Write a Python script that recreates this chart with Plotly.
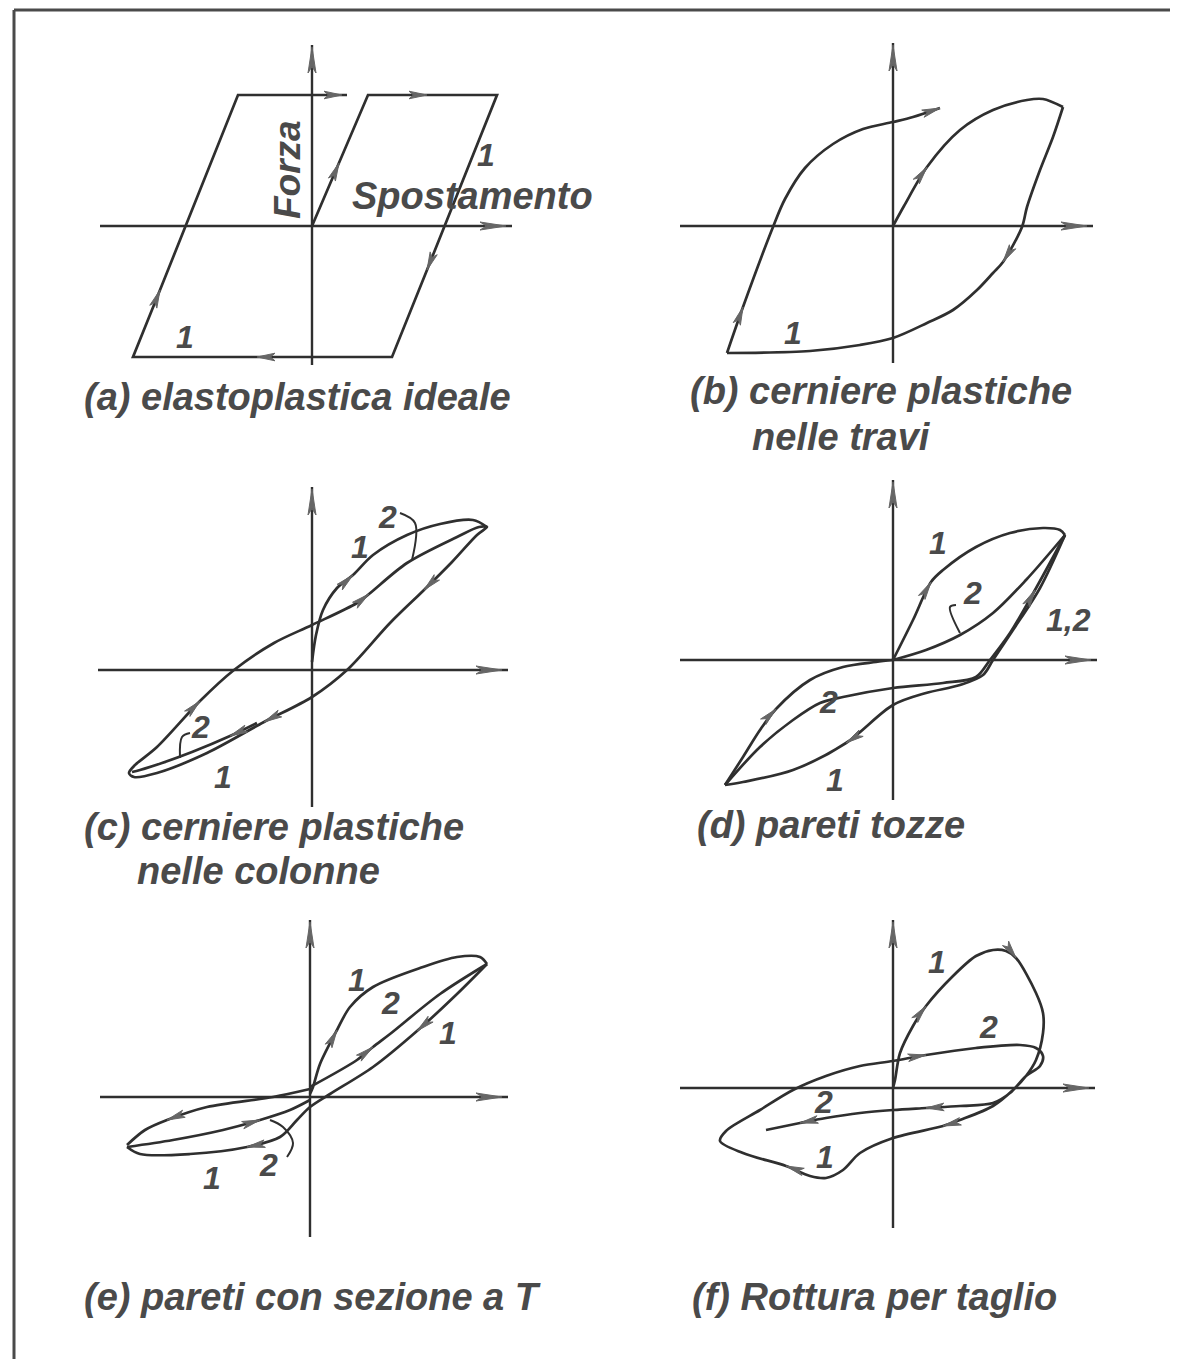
import math

import plotly.graph_objects as go

# the page places the figure 8 px in from the top-left corner
PAGE_SHIFT = 8
W, H = 1178 - PAGE_SHIFT, 1359 - PAGE_SHIFT
LINE = "#2f2f2f"
ARROW = "#666666"
TEXT = "#4a4a4a"
FONT = "Liberation Sans, Arial, sans-serif"

# page boxes (left, top, right, bottom) and axis origin of each panel, in page pixels
PANEL_BOX = {
    "a": (20, 15, 585, 460), "b": (590, 15, 1165, 460),
    "c": (20, 460, 585, 905), "d": (590, 460, 1165, 905),
    "e": (20, 905, 585, 1350), "f": (590, 905, 1165, 1350),
}
PANEL_ORIGIN = {
    "a": (312, 226), "b": (893, 226),
    "c": (312, 670), "d": (893, 660),
    "e": (310, 1097), "f": (893, 1088),
}

# drawn axis extents (Spostamento, Forza) per panel
AXIS_X = {"a": [-212, 200], "b": [-213, 200], "c": [-214, 196], "d": [-213, 204], "e": [-210, 198], "f": [-213, 202]}
AXIS_Y = {"a": [-139, 181], "b": [-137, 183], "c": [-137, 183], "d": [-140, 180], "e": [-140, 177], "f": [-140, 168]}

# (a) elastoplastica ideale
A_X = [0, 27, 56, 115, 185, 115, 80, -55, -179, -152, -74, 30, 35]
A_Y = [0, 63, 131, 131, 131, -44, -131, -131, -131, -64, 131, 131, 131]
A_ARROWS = [1, 3, 5, 7, 9, 11]

# (b) cerniere plastiche nelle travi
B_INIT_X = [0, 11, 34, 67, 100, 134, 150, 170]
B_INIT_Y = [0, 20, 59, 96, 116, 126, 127, 119]
B_DOWN_X = [170, 160, 147, 134, 129, 110, 100, 84, 60, 34, 0, -33, -83, -166]
B_DOWN_Y = [119, 89, 56, 19, -1, -36, -47, -64, -84, -97, -112, -119, -125, -127]
B_UP_X = [-166, -150, -120, -108, -88, -60, -30, 0, 20, 47]
B_UP_Y = [-127, -81, -1, 27, 58, 82, 97, 104, 109, 118]

# (c) cerniere plastiche nelle colonne
C_INIT_X = [0, 4, 11, 25, 41, 61, 95, 128, 161, 175]
C_INIT_Y = [8, 35, 60, 82, 95, 115, 135, 146, 150, 143]
C_LOOP_X = [175, 165, 140, 112, 78, 35, 0, -48, -105, -155, -178, -183, -178, -155, -112, -78, -38, 0, 45, 57, 95, 145, 167, 175]
C_LOOP_Y = [143, 135, 108, 80, 47, 0, -27, -52, -83, -103, -107, -103, -96, -77, -31, 0, 27, 45, 67, 76, 107, 133, 143, 143]
C_CYCLE2_X = [-55, -82, -120, -150, -172, -180]
C_CYCLE2_Y = [-53, -66, -82, -93, -100, -102]

# (d) pareti tozze
D_U1_X = [0, 20, 38, 50, 83, 117, 150, 167, 172]
D_U1_Y = [0, 40, 78, 90, 113, 127, 132, 130, 125]
D_U2_X = [0, 33, 67, 100, 133, 172]
D_U2_Y = [0, 10, 25, 47, 80, 125]
D_L1_X = [172, 147, 120, 100, 90, 67, 33, 0, -47, -100, -150, -168]
D_L1_Y = [125, 72, 30, 0, -15, -25, -33, -45, -83, -110, -122, -125]
D_L2_X = [-168, -133, -100, -73, -50, 0, 50, 83, 97, 117, 142, 172]
D_L2_Y = [-125, -87, -60, -43, -37, -28, -23, -17, 0, 27, 70, 125]
D_R_X = [-168, -150, -133, -117, -83, -50, -17, 0]
D_R_Y = [-125, -97, -70, -49, -20, -7, -2, 0]

# (e) pareti con sezione a T
E1_X = [0, 3, 10, 27, 40, 63, 113, 147, 170, 177]
E1_Y = [3, 10, 33, 67, 90, 110, 130, 140, 140, 133]
E2_X = [0, 47, 63, 80, 130, 177]
E2_Y = [10, 37, 50, 63, 103, 133]
E_DOWN_X = [177, 147, 107, 63, 20, 0, -13, -30, -63, -120, -170, -183]
E_DOWN_Y = [133, 103, 66, 30, 3, -10, -23, -40, -50, -57, -57, -50]
E_LEFT_X = [0, -37, -103, -143, -165, -183]
E_LEFT_Y = [8, 0, -10, -23, -33, -48]
E_BACK_X = [-183, -137, -87, -50, -20, 0]
E_BACK_Y = [-50, -43, -33, -23, -13, -3]

# (f) Rottura per taglio
F_X = [0, 2, 7, 20, 33, 60, 83, 100, 113, 123, 143, 150, 150, 143, 133, 120, 100, 67, 50, 0,
       -33, -50, -67, -83, -107, -150, -173, -167, -133, -100, -67, -33, 0, 33, 83, 127, 143,
       150, 147, 133, 117, 100, 67, 33, 0, -33, -67, -93, -127]
F_Y = [0, 8, 35, 62, 82, 112, 132, 138, 137, 130, 95, 75, 55, 28, 12, -2, -18, -32, -38, -50,
       -65, -82, -90, -88, -78, -65, -53, -43, -22, -2, 12, 22, 27, 33, 40, 43, 40,
       32, 22, 12, -5, -15, -18, -20, -22, -25, -30, -35, -42]

# bracket ticks pointing a cycle number to its branch
C_BRACKET_X = [[88, 103, 100], [-122, -130, -132]]
C_BRACKET_Y = [[157, 147, 110], [-63, -67, -88]]
D_BRACKET_X = [[63, 57, 67]]
D_BRACKET_Y = [[55, 53, 27]]
E_BRACKET_X = [[-23, -17, -27, -40]]
E_BRACKET_Y = [[-60, -46, -30, -23]]

LABELS = {
    "a": [("1", 174, 71), ("1", -127, -111)],
    "b": [("1", -100, -107)],
    "c": [("2", 75, 153), ("1", 48, 123), ("2", -112, -57), ("1", -89, -107)],
    "d": [("1", 45, 117), ("2", 79, 67), ("1,2", 175, 40), ("2", -65, -42), ("1", -58, -120)],
    "e": [("1", 47, 117), ("2", 80, 94), ("1", 138, 64), ("1", -98, -81), ("2", -42, -68)],
    "f": [("1", 44, 126), ("2", 95, 61), ("2", -70, -14), ("1", -68, -69)],
}
CAPTIONS = {
    "a": [("(a) elastoplastica ideale", -230, -171)],
    "b": [("(b) cerniere plastiche", -205, -165), ("nelle travi", -143, -211)],
    "c": [("(c) cerniere plastiche", -230, -157), ("nelle colonne", -177, -201)],
    "d": [("(d) pareti tozze", -198, -165)],
    "e": [("(e) pareti con sezione a T", -228, -200)],
    "f": [("(f) Rottura per taglio", -203, -209)],
}

# curves: (panel, x, y, arrow knot indexes, smooth)
CURVES = [
    ("a", A_X, A_Y, A_ARROWS, False),
    ("b", B_INIT_X, B_INIT_Y, [2], True),
    ("b", B_DOWN_X, B_DOWN_Y, [5], True),
    ("b", B_UP_X, B_UP_Y, [1, 9], True),
    ("c", C_INIT_X, C_INIT_Y, [4], True),
    ("c", C_LOOP_X, C_LOOP_Y, [3, 7, 14, 19], True),
    ("c", C_CYCLE2_X, C_CYCLE2_Y, [1], True),
    ("d", D_U1_X, D_U1_Y, [2], True),
    ("d", D_U2_X, D_U2_Y, [], True),
    ("d", D_L1_X, D_L1_Y, [8], True),
    ("d", D_L2_X, D_L2_Y, [10], True),
    ("d", D_R_X, D_R_Y, [3], True),
    ("e", E1_X, E1_Y, [3], True),
    ("e", E2_X, E2_Y, [2], True),
    ("e", E_DOWN_X, E_DOWN_Y, [2, 8], True),
    ("e", E_LEFT_X, E_LEFT_Y, [3], True),
    ("e", E_BACK_X, E_BACK_Y, [3], True),
    ("f", F_X, F_Y, [4, 9, 18, 24, 33, 43, 47], True),
]
BRACKETS = [("c", C_BRACKET_X, C_BRACKET_Y), ("d", D_BRACKET_X, D_BRACKET_Y), ("e", E_BRACKET_X, E_BRACKET_Y)]

ORDER = ["a", "b", "c", "d", "e", "f"]


def axis_ids(panel):
    n = ORDER.index(panel) + 1
    return ("x", "y") if n == 1 else (f"x{n}", f"y{n}")


def head(px, py, tx, ty, dx, dy, length, half):
    norm = math.hypot(dx, dy) or 1.0
    dx, dy = dx / norm, dy / norm
    bx, by = tx - length * dx, ty - length * dy
    px += [tx, bx - half * dy, bx + 0.25 * length * dx, bx + half * dy, tx, None]
    py += [ty, by + half * dx, by + 0.25 * length * dy, by - half * dx, ty, None]


def font(size):
    return dict(family=FONT, size=size, color=TEXT, weight="bold", style="italic")


fig = go.Figure()

for panel in ORDER:
    xa, ya = axis_ids(panel)
    x0, x1 = AXIS_X[panel]
    y0, y1 = AXIS_Y[panel]
    fig.add_trace(go.Scatter(x=[x0, x1, None, 0, 0], y=[0, 0, None, y0, y1], mode="lines",
                             line=dict(color=LINE, width=2.4), xaxis=xa, yaxis=ya, hoverinfo="skip"))
    hx, hy = [], []
    head(hx, hy, x1 - 6, 0, 1, 0, 26, 4)
    head(hx, hy, 0, y1 - 2, 0, 1, 26, 4)
    fig.add_trace(go.Scatter(x=hx, y=hy, mode="lines", fill="toself", fillcolor=ARROW,
                             line=dict(color=ARROW, width=1), xaxis=xa, yaxis=ya, hoverinfo="skip"))

for panel, xs, ys, arrows, smooth in CURVES:
    xa, ya = axis_ids(panel)
    fig.add_trace(go.Scatter(x=xs, y=ys, mode="lines",
                             line=dict(color=LINE, width=2.7, shape="spline" if smooth else "linear", smoothing=0.9),
                             xaxis=xa, yaxis=ya, hoverinfo="skip"))
    if arrows:
        hx, hy = [], []
        for i in arrows:
            j0, j1 = max(i - 1, 0), min(i + 1, len(xs) - 1)
            head(hx, hy, xs[i], ys[i], xs[j1] - xs[j0], ys[j1] - ys[j0], 18, 3.8)
        fig.add_trace(go.Scatter(x=hx, y=hy, mode="lines", fill="toself", fillcolor=ARROW,
                                 line=dict(color=ARROW, width=1), xaxis=xa, yaxis=ya, hoverinfo="skip"))

for panel, bxs, bys in BRACKETS:
    xa, ya = axis_ids(panel)
    for bx, by in zip(bxs, bys):
        fig.add_trace(go.Scatter(x=bx, y=by, mode="lines", line=dict(color=LINE, width=2, shape="spline"),
                                 xaxis=xa, yaxis=ya, hoverinfo="skip"))

annotations = []
for panel in ORDER:
    xa, ya = axis_ids(panel)
    for text, x, y in LABELS[panel]:
        annotations.append(dict(text=text, x=x, y=y, xref=xa, yref=ya, showarrow=False, font=font(32)))
    for text, x, y in CAPTIONS[panel]:
        annotations.append(dict(text=text, x=x, y=y, xref=xa, yref=ya, showarrow=False, xanchor="left",
                                font=font(38)))

annotations.append(dict(text="Forza", x=-25, y=56, xref="x", yref="y", showarrow=False, textangle=-90,
                        font=font(37)))
annotations.append(dict(text="Spostamento", x=160, y=30, xref="x", yref="y", showarrow=False, font=font(38)))

layout_axes = {}
for panel in ORDER:
    n = ORDER.index(panel) + 1
    left, top, right, bottom = PANEL_BOX[panel]
    ox, oy = PANEL_ORIGIN[panel]
    suffix = "" if n == 1 else str(n)
    xa, ya = axis_ids(panel)
    fl, ft, fr, fb = (v - PAGE_SHIFT for v in (left, top, right, bottom))
    layout_axes[f"xaxis{suffix}"] = dict(domain=[fl / W, fr / W], range=[left - ox, right - ox],
                                         visible=False, fixedrange=True, anchor=ya)
    layout_axes[f"yaxis{suffix}"] = dict(domain=[(H - fb) / H, (H - ft) / H], range=[oy - bottom, oy - top],
                                         visible=False, fixedrange=True, anchor=xa)

frame_x = (14 - PAGE_SHIFT) / W
frame_y = (H - (10 - PAGE_SHIFT)) / H
fig.update_layout(
    width=W, height=H,
    margin=dict(l=0, r=0, t=0, b=0),
    paper_bgcolor="white", plot_bgcolor="rgba(0,0,0,0)",
    showlegend=False,
    annotations=annotations,
    shapes=[
        dict(type="line", xref="paper", yref="paper", x0=frame_x, x1=frame_x, y0=0, y1=frame_y,
             line=dict(color="#4a4a4a", width=3)),
        dict(type="line", xref="paper", yref="paper", x0=frame_x, x1=1, y0=frame_y, y1=frame_y,
             line=dict(color="#4a4a4a", width=3)),
    ],
    **layout_axes,
)

fig.write_html("out.html")
